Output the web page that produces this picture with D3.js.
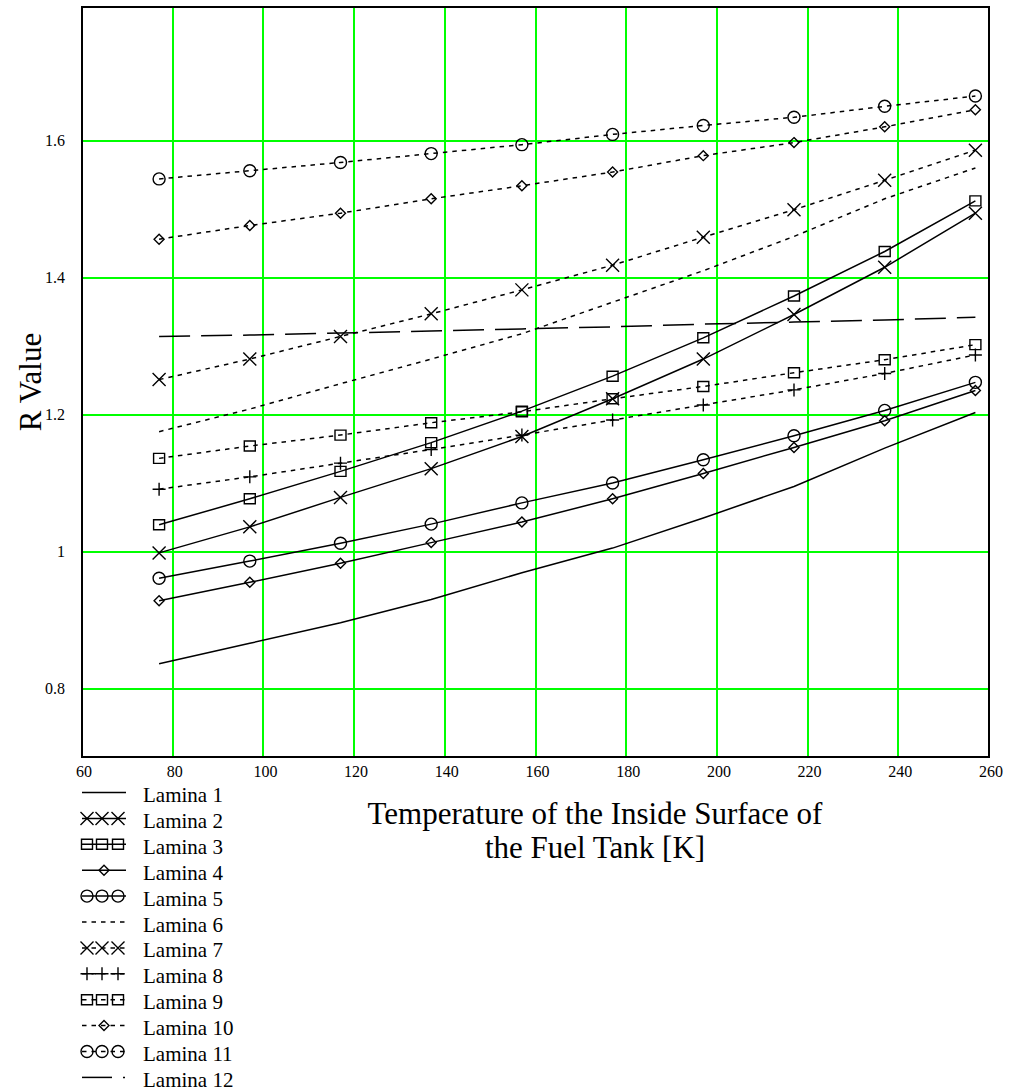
<!DOCTYPE html>
<html lang="en">
<head>
<meta charset="UTF-8">
<title>R Value vs Temperature</title>
<script src="https://cdn.jsdelivr.net/npm/d3@7"></script>
<style>
  body { margin: 0; background: #fff; }
  text { font-family: "Liberation Serif", "Times New Roman", serif; fill: #000; }
</style>
</head>
<body>
<svg id="chart" width="1010" height="1092"></svg>
<script>
// data
const temps = [77, 97, 117, 137, 157, 177, 197, 217, 237, 257];
const lamina1 = [0.836, 0.866, 0.896, 0.930, 0.969, 1.005, 1.049, 1.095, 1.151, 1.203];
const lamina2 = [0.998, 1.036, 1.079, 1.121, 1.168, 1.223, 1.281, 1.346, 1.415, 1.494];
const lamina3 = [1.039, 1.077, 1.117, 1.159, 1.205, 1.256, 1.312, 1.373, 1.438, 1.512];
const lamina4 = [0.928, 0.955, 0.983, 1.013, 1.043, 1.077, 1.114, 1.152, 1.191, 1.235];
const lamina5 = [0.961, 0.986, 1.012, 1.040, 1.071, 1.100, 1.134, 1.169, 1.206, 1.247];
const lamina6 = [1.175, 1.208, 1.245, 1.281, 1.318, 1.364, 1.410, 1.460, 1.515, 1.560];
const lamina7 = [1.251, 1.281, 1.314, 1.347, 1.382, 1.418, 1.459, 1.499, 1.542, 1.586];
const lamina8 = [1.091, 1.109, 1.129, 1.149, 1.170, 1.192, 1.214, 1.236, 1.260, 1.287];
const lamina9 = [1.136, 1.154, 1.170, 1.188, 1.204, 1.223, 1.241, 1.261, 1.280, 1.302];
const lamina10 = [1.456, 1.476, 1.494, 1.515, 1.534, 1.554, 1.578, 1.597, 1.620, 1.645];
const lamina11 = [1.544, 1.556, 1.568, 1.581, 1.594, 1.609, 1.622, 1.634, 1.650, 1.665];
const lamina12 = [1.314, 1.316, 1.319, 1.322, 1.325, 1.328, 1.332, 1.335, 1.338, 1.342];

const names = ["Lamina 1", "Lamina 2", "Lamina 3", "Lamina 4", "Lamina 5", "Lamina 6",
               "Lamina 7", "Lamina 8", "Lamina 9", "Lamina 10", "Lamina 11", "Lamina 12"];
const seriesValues = [lamina1, lamina2, lamina3, lamina4, lamina5, lamina6,
                      lamina7, lamina8, lamina9, lamina10, lamina11, lamina12];
const xTicks = [60, 80, 100, 120, 140, 160, 180, 200, 220, 240, 260];
const yTicks = [0.8, 1, 1.2, 1.4, 1.6];

// styles
const markerTypes = [null, "x", "square", "diamond", "circle", null,
                     "x", "plus", "square", "diamond", "circle", null];
const dashTypes = ["solid", "solid", "solid", "solid", "solid", "short",
                   "short", "short", "short", "short", "short", "long"];
const dashArray = { solid: null, short: "4.5,5", long: "31,11" };

const svg = d3.select("#chart");
const plotL = 82, plotR = 989, plotT = 7, plotB = 757;

const x = d3.scaleLinear().domain([60, 260]).range([plotL, plotR]);
const y = d3.scaleLinear().domain([0.7, 1.795]).range([plotB, plotT]);

// grid, snapped to whole pixels, 2px so it stays pure green
const snap = v => Math.round(v);

svg.append("g").selectAll("line")
    .data(xTicks.slice(1, -1))
    .join("line")
    .attr("x1", d => snap(x(d))).attr("x2", d => snap(x(d)))
    .attr("y1", plotT).attr("y2", plotB)
    .attr("stroke", "#00ff00").attr("stroke-width", 2)
    .attr("shape-rendering", "crispEdges");

svg.append("g").selectAll("line")
    .data(yTicks)
    .join("line")
    .attr("x1", plotL).attr("x2", plotR)
    .attr("y1", d => snap(y(d))).attr("y2", d => snap(y(d)))
    .attr("stroke", "#00ff00").attr("stroke-width", 2)
    .attr("shape-rendering", "crispEdges");

// tick labels
svg.append("g").selectAll("text")
    .data(xTicks)
    .join("text")
    .attr("x", d => x(d) + 2)
    .attr("y", 777)
    .attr("text-anchor", "middle")
    .attr("font-size", "16px")
    .text(d => d);

svg.append("g").selectAll("text")
    .data(yTicks)
    .join("text")
    .attr("x", 65)
    .attr("y", d => y(d) + 5)
    .attr("text-anchor", "end")
    .attr("font-size", "16px")
    .text(d => d);

// marker shapes
function markerPath(type) {
    switch (type) {
        case "x": return "M-6.5,-6.5L6.5,6.5M-6.5,6.5L6.5,-6.5";
        case "plus": return "M-6.5,0L6.5,0M0,-6.5L0,6.5";
        case "square": return "M-5.5,-5L5.5,-5L5.5,5L-5.5,5Z";
        case "diamond": return "M0,-5L5,0L0,5L-5,0Z";
        case "circle": return "M6,0A6,6 0 1,1 -6,0A6,6 0 1,1 6,0Z";
    }
    return "";
}

const line = d3.line()
    .x(d => x(d[0]))
    .y(d => y(d[1]));

const plot = svg.append("g");

seriesValues.forEach((vals, i) => {
    const pts = temps.map((t, j) => [t, vals[j]]);
    plot.append("path")
        .datum(pts)
        .attr("d", line)
        .attr("fill", "none")
        .attr("stroke", "#000")
        .attr("stroke-width", 1.5)
        .attr("stroke-dasharray", dashArray[dashTypes[i]]);

    if (markerTypes[i]) {
        plot.append("g").selectAll("path")
            .data(pts)
            .join("path")
            .attr("transform", d => `translate(${x(d[0])},${y(d[1])})`)
            .attr("d", markerPath(markerTypes[i]))
            .attr("fill", "none")
            .attr("stroke", "#000")
            .attr("stroke-width", 1.4);
    }
});

// frame
svg.append("rect")
    .attr("x", plotL).attr("y", plotT)
    .attr("width", plotR - plotL).attr("height", plotB - plotT)
    .attr("fill", "none")
    .attr("stroke", "#000")
    .attr("stroke-width", 2);

// axis titles
svg.append("text")
    .attr("transform", "translate(41,382) rotate(-90)")
    .attr("text-anchor", "middle")
    .attr("font-size", "31px")
    .text("R Value");

const xTitle = svg.append("text")
    .attr("text-anchor", "middle")
    .attr("font-size", "31px");
xTitle.append("tspan").attr("x", 595).attr("y", 824).text("Temperature of the Inside Surface of");
xTitle.append("tspan").attr("x", 595).attr("y", 858).text("the Fuel Tank [K]");

// legend
const legend = svg.append("g");
names.forEach((name, i) => {
    const base = 802 + i * 25.9;
    const ly = base - 9.5;
    const g = legend.append("g");
    if (dashTypes[i] === "long") {
        g.append("line").attr("x1", 82).attr("x2", 112).attr("y1", ly).attr("y2", ly)
            .attr("stroke", "#000").attr("stroke-width", 1.5);
        g.append("line").attr("x1", 123).attr("x2", 125).attr("y1", ly).attr("y2", ly)
            .attr("stroke", "#000").attr("stroke-width", 1.5);
    } else {
        g.append("line").attr("x1", 82).attr("x2", 126).attr("y1", ly).attr("y2", ly)
            .attr("stroke", "#000").attr("stroke-width", 1.5)
            .attr("stroke-dasharray", dashArray[dashTypes[i]]);
    }
    const m = markerTypes[i];
    if (m) {
        const xs = m === "diamond" ? [104] : [87, 102, 118];
        xs.forEach(cx => {
            g.append("path")
                .attr("transform", `translate(${cx},${ly})`)
                .attr("d", markerPath(m))
                .attr("fill", "none")
                .attr("stroke", "#000")
                .attr("stroke-width", 1.4);
        });
    }
    g.append("text")
        .attr("x", 143)
        .attr("y", base)
        .attr("font-size", "21px")
        .text(name);
});
</script>
</body>
</html>
